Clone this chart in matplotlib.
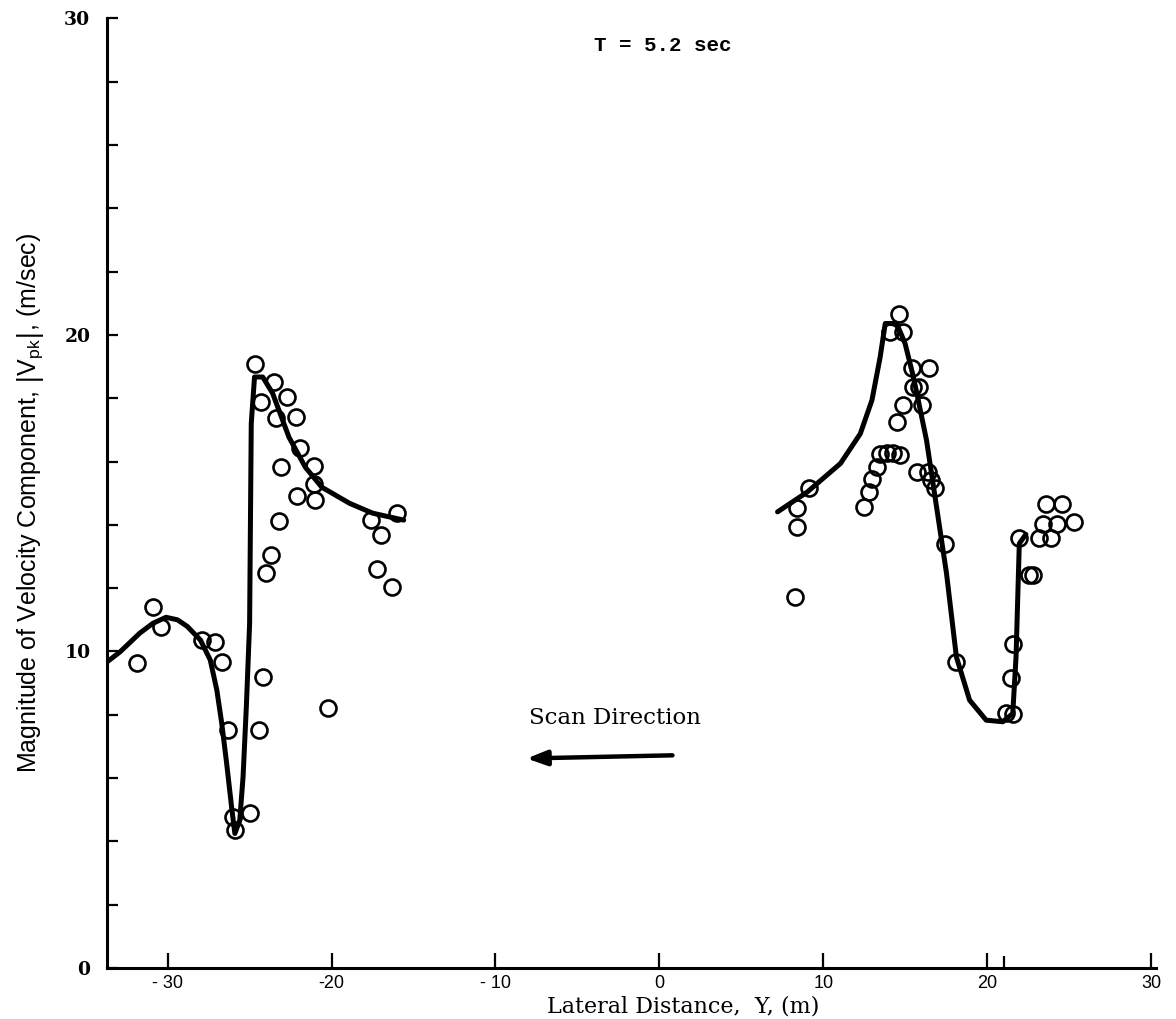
import matplotlib.pyplot as plt
from matplotlib.ticker import MultipleLocator, FixedLocator

# measured peak velocity magnitudes, left wake (Y < 0)
left_y = [-31.9, -30.9, -30.4, -27.9, -27.1, -26.7, -26.3, -26.0, -25.9, -25.0,
          -24.4, -24.2, -24.7, -24.3, -23.5, -22.7, -22.2, -23.4, -21.9, -21.1,
          -21.1, -23.1, -22.1, -21.0, -23.2, -23.7, -24.0, -20.2, -17.6, -17.0,
          -17.2, -16.3, -16.0]
left_v = [9.63, 11.41, 10.77, 10.36, 10.30, 9.67, 7.51, 4.77, 4.36, 4.89,
          7.51, 9.20, 19.07, 17.88, 18.51, 18.03, 17.41, 17.37, 16.42, 15.85,
          15.28, 15.83, 14.90, 14.78, 14.11, 13.04, 12.47, 8.21, 14.15, 13.67,
          12.60, 12.04, 14.38]

# measured peak velocity magnitudes, right wake (Y > 0)
right_y = [8.26, 8.42, 8.42, 9.13, 12.47, 12.77, 12.97, 13.27, 13.47, 13.88,
           14.28, 14.67, 14.59, 14.08, 14.89, 15.39, 16.47, 15.50, 15.82, 14.89,
           16.00, 14.48, 15.70, 16.41, 16.60, 16.80, 17.41, 18.12, 21.15, 21.55,
           21.45, 21.55, 21.96, 22.56, 22.77, 23.17, 23.88, 23.38, 24.28, 25.29,
           23.58, 24.59]
right_v = [11.72, 13.93, 14.52, 15.15, 14.57, 15.04, 15.46, 15.83, 16.25, 16.26,
           16.26, 16.20, 20.65, 20.09, 20.09, 18.97, 18.97, 18.35, 18.35, 17.78,
           17.78, 17.25, 15.67, 15.67, 15.41, 15.15, 13.41, 9.67, 8.05, 8.04,
           9.15, 10.25, 13.57, 12.41, 12.41, 13.57, 13.57, 14.04, 14.04, 14.09,
           14.67, 14.67]

# faired curves through the data
left_fit_y = [-33.7, -32.9, -31.7, -30.9, -30.1, -29.4, -28.8, -28.0, -27.4, -27.0,
              -26.7, -26.4, -26.1, -25.9, -25.6, -25.4, -25.2, -25.0, -24.9, -24.7,
              -24.2, -23.6, -22.6, -21.6, -20.6, -18.9, -17.5, -15.6]
left_fit_v = [9.67, 9.99, 10.58, 10.89, 11.08, 11.00, 10.79, 10.36, 9.73, 8.78,
              7.73, 6.46, 5.09, 4.25, 4.67, 6.04, 8.25, 10.88, 17.2, 18.67,
              18.67, 18.16, 16.77, 15.82, 15.19, 14.68, 14.37, 14.15]
right_fit_y = [7.21, 9.03, 11.05, 12.26, 12.97, 13.47, 13.78, 14.48, 14.99, 15.5,
               16.3, 16.91, 17.52, 18.12, 18.93, 19.94, 20.95, 21.56, 21.76, 21.96,
               22.36]
right_fit_v = [14.41, 15.04, 15.94, 16.88, 17.94, 19.30, 20.36, 20.36, 19.73, 18.67,
               16.67, 14.57, 12.46, 9.83, 8.46, 7.83, 7.78, 8.04, 9.83, 13.41,
               13.7]

fig = plt.figure(figsize=(11.76, 10.19), dpi=100)
ax = fig.add_axes([0.091, 0.05, 0.892, 0.932])

for fy, fv in [(left_fit_y, left_fit_v), (right_fit_y, right_fit_v)]:
    ax.plot(fy, fv, color='black', lw=3.6, solid_joinstyle='round',
            solid_capstyle='round', zorder=2)

for yy, vv in [(left_y, left_v), (right_y, right_v)]:
    ax.plot(yy, vv, 'o', ms=11.5, mfc='none', mec='black', mew=1.9, zorder=3)

ax.set_xlim(-33.7, 30.3)
ax.set_ylim(0, 30)

for side in ['top', 'right']:
    ax.spines[side].set_visible(False)
for side in ['left', 'bottom']:
    ax.spines[side].set_linewidth(2.2)

ax.xaxis.set_major_locator(FixedLocator([-30, -20, -10, 0, 10, 20, 30]))
ax.xaxis.set_minor_locator(FixedLocator([21]))
ax.yaxis.set_major_locator(MultipleLocator(10))
ax.yaxis.set_minor_locator(MultipleLocator(2))
ax.tick_params(which='both', direction='in', width=1.6, colors='black')
ax.tick_params(axis='x', which='major', length=11, pad=5)
ax.tick_params(axis='x', which='minor', length=9)
ax.tick_params(axis='y', which='both', length=8, pad=12)

serif = 'DejaVu Serif'
ax.set_xticklabels(['- 30', '-20', '- 10', '0', '10', '20', '30'],
                   fontsize=13, family='Liberation Sans')
ax.set_yticks([0, 10, 20, 30])
ax.set_yticklabels(['0', '10', '20', '30'], fontsize=13.5, family=serif,
                   fontweight='bold')

ax.set_xlabel('Lateral Distance,  Y, (m)', fontsize=16, family=serif)
ax.xaxis.set_label_coords(0.549, -0.040)
ax.xaxis.label.set_va('center')
ax.set_ylabel(r'Magnitude of Velocity Component, $\left|\mathregular{V_{pk}}\right|$, (m/sec)',
              fontsize=18, family='Liberation Sans')
ax.yaxis.set_label_coords(-0.0734, 0.49)
ax.yaxis.label.set_va('center')

ax.text(0.18, 29.15, 'T = 5.2 sec', fontsize=15, family='Liberation Mono',
        fontweight='bold', ha='center', va='center')
ax.text(-2.74, 7.9, 'Scan Direction', fontsize=16.5, family=serif,
        ha='center', va='center')
ax.annotate('', xy=(-8.1, 6.62), xytext=(0.8, 6.72),
            arrowprops=dict(arrowstyle='-|>,head_length=1.2,head_width=0.45',
                            color='black', lw=3.2, shrinkA=0, shrinkB=0))

fig.savefig('out.png', dpi=100, facecolor='white')
